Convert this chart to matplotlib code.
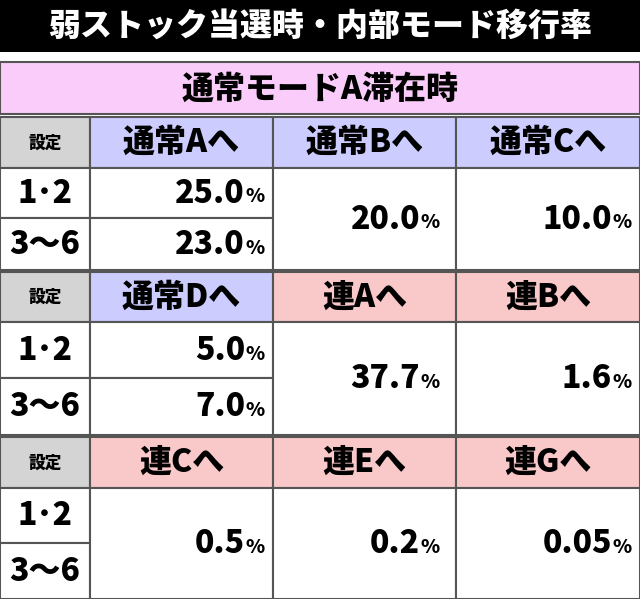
import matplotlib.pyplot as plt
from matplotlib.patches import Rectangle

plt.rcParams['font.family'] = ['Noto Sans CJK JP', 'DejaVu Sans']

title = '弱ストック当選時・内部モード移行率'
subtitle = '通常モードA滞在時'
settings = ['1･2', '3〜6']
headers1 = ['通常Aへ', '通常Bへ', '通常Cへ']
values1 = [['25.0', '23.0'], ['20.0'], ['10.0']]
headers2 = ['通常Dへ', '連Aへ', '連Bへ']
values2 = [['5.0', '7.0'], ['37.7'], ['1.6']]
headers3 = ['連Cへ', '連Eへ', '連Gへ']
values3 = [['0.5'], ['0.2'], ['0.05']]

BLUE = '#ccccff'
RED = '#f9c8c8'
GREY = '#d4d4d4'
PINK = '#f9ccf9'
EDGE = '#555555'

fig = plt.figure(figsize=(6.4, 5.99), dpi=100)
ax = fig.add_axes([0, 0, 1, 1])
ax.set_xlim(0, 640)
ax.set_ylim(599, 0)
ax.axis('off')

cols = [0, 90, 273, 456, 640]
W = 'heavy'


def cell(x0, y0, x1, y1, color='white'):
    ax.add_patch(Rectangle((x0, y0), x1 - x0, y1 - y0, facecolor=color,
                           edgecolor=EDGE, linewidth=1.5))


def pct(x1, yc, val, shift=0):
    ax.text(x1 - 8 - shift, yc + 4, '%', ha='right', va='center', fontsize=14, fontweight=W)
    ax.text(x1 - 28 - shift, yc, val, ha='right', va='center', fontsize=23, fontweight=W)


# title
ax.add_patch(Rectangle((0, 0), 640, 52, facecolor='black'))
ax.text(320, 26, title, ha='center', va='center', color='white', fontsize=23, fontweight=W)
cell(0, 62, 640, 114, PINK)
ax.text(320, 89, subtitle, ha='center', va='center', fontsize=23, fontweight=W)

blocks = [(117, 168, 218, 270, headers1, values1, [BLUE, BLUE, BLUE]),
          (272, 322, 378, 435, headers2, values2, [BLUE, RED, RED]),
          (437, 488, 543, 599, headers3, values3, [RED, RED, RED])]

for hy, r1, r2, r3, heads, vals, colors in blocks:
    cell(0, hy, 90, r1, GREY)
    ax.text(45, (hy + r1) / 2, '設定', ha='center', va='center', fontsize=12, fontweight=W)
    for i, s in enumerate(settings):
        ya, yb = [(r1, r2), (r2, r3)][i]
        cell(0, ya, 90, yb)
        ax.text(45, (ya + yb) / 2, s, ha='center', va='center', fontsize=23, fontweight=W)
    for j, h in enumerate(heads):
        x0, x1 = cols[j + 1], cols[j + 2]
        cell(x0, hy, x1, r1, colors[j])
        ax.text((x0 + x1) / 2, (hy + r1) / 2, h, ha='center', va='center', fontsize=23, fontweight=W)
        v = vals[j]
        if len(v) == 2:
            cell(x0, r1, x1, r2)
            cell(x0, r2, x1, r3)
            pct(x1, (r1 + r2) / 2, v[0])
            pct(x1, (r2 + r3) / 2, v[1])
        else:
            cell(x0, r1, x1, r3)
            pct(x1, (r1 + r3) / 2, v[0], shift=8 if j == 1 else 0)

fig.savefig('out.png', dpi=100)
